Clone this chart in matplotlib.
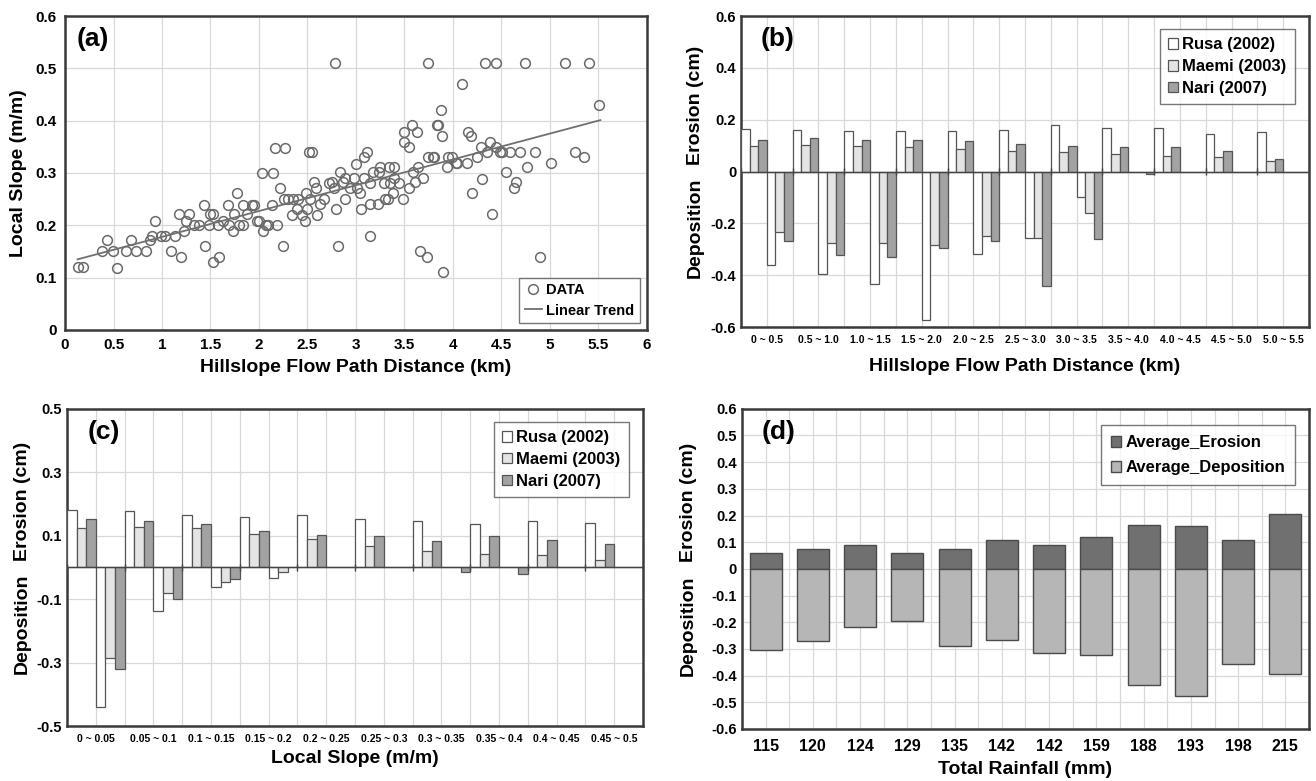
import numpy as np
import matplotlib
matplotlib.use('Agg')
import matplotlib.pyplot as plt
from matplotlib.ticker import MultipleLocator

plt.rcParams['font.family'] = ['Liberation Sans', 'DejaVu Sans']
plt.rcParams['font.weight'] = 'bold'

# (a) local slope vs. hillslope flow path distance
dist_km = [0.137, 0.188, 0.377, 0.435, 0.49, 0.538, 0.627, 0.685, 0.73, 0.84,
           0.88, 0.90, 0.925, 0.986, 1.03, 1.09, 1.13, 1.18, 1.2, 1.23,
           1.25, 1.28, 1.33, 1.38, 1.43, 1.445, 1.48, 1.49, 1.53, 1.53,
           1.585, 1.58, 1.63, 1.68, 1.695, 1.73, 1.74, 1.77, 1.79, 1.84,
           1.83, 1.88, 1.93, 1.945, 1.98, 2.0, 2.03, 2.04, 2.07, 2.09,
           2.13, 2.14, 2.17, 2.19, 2.22, 2.25, 2.27, 2.26, 2.3, 2.34,
           2.35, 2.39, 2.4, 2.44, 2.47, 2.48, 2.5, 2.52, 2.545, 2.53,
           2.57, 2.59, 2.6, 2.63, 2.67, 2.72, 2.78, 2.75, 2.77, 2.79,
           2.81, 2.84, 2.87, 2.89, 2.89, 2.94, 2.98, 3.0, 3.01, 3.04,
           3.05, 3.08, 3.08, 3.11, 3.14, 3.14, 3.14, 3.18, 3.23, 3.24,
           3.25, 3.29, 3.3, 3.33, 3.34, 3.35, 3.38, 3.39, 3.39, 3.44,
           3.48, 3.49, 3.5, 3.55, 3.55, 3.58, 3.59, 3.61, 3.63, 3.64,
           3.66, 3.69, 3.73, 3.74, 3.74, 3.79, 3.8, 3.84, 3.85, 3.88,
           3.89, 3.9, 3.94, 3.95, 3.99, 4.03, 4.04, 4.09, 4.14, 4.16,
           4.19, 4.2, 4.25, 4.29, 4.3, 4.33, 4.35, 4.38, 4.4, 4.44,
           4.44, 4.49, 4.51, 4.55, 4.59, 4.63, 4.65, 4.69, 4.74, 4.76,
           4.85, 4.9, 5.01, 5.15, 5.26, 5.35, 5.4, 5.51]
local_slope = [0.12, 0.12, 0.15, 0.172, 0.15, 0.119, 0.15, 0.172, 0.15, 0.15,
               0.172, 0.18, 0.209, 0.18, 0.18, 0.15, 0.18, 0.221, 0.14, 0.19,
               0.209, 0.221, 0.2, 0.2, 0.239, 0.16, 0.2, 0.221, 0.221, 0.13,
               0.14, 0.2, 0.209, 0.239, 0.2, 0.19, 0.221, 0.261, 0.2, 0.2,
               0.239, 0.221, 0.239, 0.239, 0.209, 0.209, 0.3, 0.19, 0.2, 0.2,
               0.239, 0.3, 0.348, 0.2, 0.271, 0.16, 0.348, 0.25, 0.25, 0.22,
               0.25, 0.231, 0.25, 0.22, 0.209, 0.261, 0.231, 0.341, 0.341, 0.25,
               0.282, 0.271, 0.22, 0.24, 0.25, 0.28, 0.511, 0.282, 0.271, 0.231,
               0.16, 0.301, 0.282, 0.29, 0.25, 0.271, 0.29, 0.318, 0.271, 0.261,
               0.231, 0.29, 0.331, 0.341, 0.24, 0.28, 0.18, 0.301, 0.24, 0.301,
               0.312, 0.28, 0.25, 0.25, 0.311, 0.28, 0.261, 0.311, 0.29, 0.28,
               0.25, 0.379, 0.36, 0.271, 0.35, 0.392, 0.301, 0.282, 0.379, 0.311,
               0.15, 0.29, 0.14, 0.511, 0.331, 0.331, 0.331, 0.392, 0.392, 0.42,
               0.371, 0.111, 0.311, 0.331, 0.331, 0.32, 0.32, 0.47, 0.32, 0.379,
               0.371, 0.261, 0.331, 0.35, 0.289, 0.511, 0.341, 0.36, 0.221, 0.511,
               0.35, 0.341, 0.341, 0.301, 0.341, 0.271, 0.282, 0.341, 0.511, 0.311,
               0.341, 0.14, 0.32, 0.511, 0.341, 0.331, 0.511, 0.429]
trend_x = [0.13, 5.52]
trend_y = [0.135, 0.401]

storms = ['Rusa (2002)', 'Maemi (2003)', 'Nari (2007)']

# (b) erosion / deposition by flow path distance
dist_classes = ['0 ~ 0.5', '0.5 ~ 1.0', '1.0 ~ 1.5', '1.5 ~ 2.0', '2.0 ~ 2.5', '2.5 ~ 3.0',
                '3.0 ~ 3.5', '3.5 ~ 4.0', '4.0 ~ 4.5', '4.5 ~ 5.0', '5.0 ~ 5.5']
rusa_ero_b = [0.164, 0.16, 0.158, 0.156, 0.156, 0.162, 0.178, 0.17, 0.167, 0.147, 0.151]
maemi_ero_b = [0.10, 0.104, 0.097, 0.094, 0.086, 0.079, 0.076, 0.068, 0.059, 0.055, 0.04]
nari_ero_b = [0.123, 0.13, 0.123, 0.123, 0.117, 0.107, 0.098, 0.096, 0.096, 0.078, 0.047]
rusa_dep_b = [-0.36, -0.397, -0.435, -0.574, -0.317, -0.256, -0.099, 0, 0, 0, 0]
maemi_dep_b = [-0.234, -0.274, -0.277, -0.285, -0.25, -0.256, -0.159, 0, 0, 0, 0]
nari_dep_b = [-0.268, -0.323, -0.329, -0.295, -0.268, -0.442, -0.26, -0.01, 0, 0, 0]

# (c) erosion / deposition by local slope
slope_classes = ['0 ~ 0.05', '0.05 ~ 0.1', '0.1 ~ 0.15', '0.15 ~ 0.2', '0.2 ~ 0.25',
                 '0.25 ~ 0.3', '0.3 ~ 0.35', '0.35 ~ 0.4', '0.4 ~ 0.45', '0.45 ~ 0.5']
rusa_ero_c = [0.18, 0.177, 0.164, 0.16, 0.166, 0.153, 0.147, 0.137, 0.147, 0.14]
maemi_ero_c = [0.125, 0.129, 0.125, 0.106, 0.09, 0.069, 0.053, 0.042, 0.04, 0.022]
nari_ero_c = [0.152, 0.145, 0.138, 0.116, 0.103, 0.098, 0.084, 0.098, 0.087, 0.075]
rusa_dep_c = [-0.441, -0.136, -0.063, -0.033, 0, 0, 0, 0, 0, 0]
maemi_dep_c = [-0.286, -0.08, -0.045, -0.015, 0, 0, 0, 0, 0, 0]
nari_dep_c = [-0.32, -0.10, -0.037, 0, 0, 0, -0.013, -0.021, 0, 0]

# (d) average erosion / deposition by total rainfall
rainfall = ['115', '120', '124', '129', '135', '142', '142', '159', '188', '193', '198', '215']
avg_erosion = [0.06, 0.075, 0.089, 0.06, 0.075, 0.11, 0.091, 0.119, 0.166, 0.162, 0.11, 0.206]
avg_deposition = [-0.305, -0.271, -0.217, -0.196, -0.29, -0.266, -0.315, -0.322, -0.434, -0.477, -0.356, -0.393]

frame_col = '#3a3a3a'
grid_col = '#d8d8d8'
storm_fill = ['white', '#e4e4e4', '#a2a2a2']


def frame(ax):
    for s in ax.spines.values():
        s.set_color(frame_col)
        s.set_linewidth(1.8)
    ax.tick_params(length=0, labelsize=10.5)
    ax.set_axisbelow(True)


def split_ylabel(ax, xpos):
    ax.text(xpos, 0.52, 'Erosion (cm)', rotation=90, transform=ax.transAxes,
            ha='center', va='bottom', fontsize=14, fontweight='bold')
    ax.text(xpos, 0.48, 'Deposition', rotation=90, transform=ax.transAxes,
            ha='center', va='top', fontsize=14, fontweight='bold')


def storm_panel(ax, cats, ero, dep, ylim, ystep, ylabx):
    n = len(cats)
    x = np.arange(n)
    w = 1 / 6
    for k in range(3):
        ax.bar(x - 0.5 + w * (k + 0.5), ero[k], w, color=storm_fill[k],
               edgecolor='#555555', linewidth=0.9, label=storms[k], zorder=3)
    for k in range(3):
        ax.bar(x + w * (k + 0.5), dep[k], w, color=storm_fill[k],
               edgecolor='#555555', linewidth=0.9, zorder=3)
    ax.axhline(0, color='#444444', lw=1.0, zorder=4)
    ax.vlines(np.arange(n + 1) - 0.5, -ylim * 0.02, ylim * 0.02, color='#444444', lw=1.0, zorder=4)
    ax.set_xlim(-0.5, n - 0.5)
    ax.set_ylim(-ylim, ylim)
    ax.yaxis.set_major_locator(MultipleLocator(ystep))
    ax.set_xticks(x)
    ax.set_xticklabels(cats)
    ax.set_xticks(np.arange(n + 1) - 0.5, minor=True)
    ax.grid(True, which='both', color=grid_col, lw=0.9)
    frame(ax)
    ax.tick_params(axis='x', labelsize=7.5, pad=6)
    ax.tick_params(which='minor', length=0)
    split_ylabel(ax, ylabx)
    ax.legend(loc='upper right', fontsize=12, frameon=True, fancybox=False,
              edgecolor='#555555', handlelength=0.6, handleheight=0.6,
              handletextpad=0.25, borderpad=0.5, labelspacing=0.4,
              bbox_to_anchor=(0.99, 0.985))


fig = plt.figure(figsize=(13.16, 7.81), dpi=100)

# ---- (a)
ax_a = fig.add_axes([0.0494, 0.5775, 0.4422, 0.402])
ax_a.plot(dist_km, local_slope, 'o', mfc='none', mec='#6a6a6a', mew=1.1, ms=7, label='DATA', zorder=3)
ax_a.plot(trend_x, trend_y, '-', color='#707070', lw=1.3, label='Linear Trend', zorder=3)
ax_a.set_xlim(0, 6)
ax_a.set_ylim(0, 0.6)
ax_a.set_xticks(np.arange(0, 6.01, 0.5))
ax_a.set_xticklabels(['0', '0.5', '1', '1.5', '2', '2.5', '3', '3.5', '4', '4.5', '5', '5.5', '6'])
ax_a.set_yticks(np.arange(0, 0.61, 0.1))
ax_a.set_yticklabels(['0', '0.1', '0.2', '0.3', '0.4', '0.5', '0.6'])
ax_a.grid(True, color=grid_col, lw=0.9)
frame(ax_a)
ax_a.tick_params(labelsize=11, pad=6)
ax_a.set_xlabel('Hillslope Flow Path Distance (km)', fontsize=14, fontweight='bold', labelpad=5)
ax_a.set_ylabel('Local Slope (m/m)', fontsize=14, fontweight='bold', labelpad=6)
ax_a.text(0.02, 0.965, '(a)', transform=ax_a.transAxes, fontsize=19, fontweight='bold', va='top')
ax_a.legend(loc='lower right', fontsize=10.5, frameon=True, fancybox=False,
            edgecolor='#555555', handlelength=1.2, handletextpad=0.3,
            borderpad=0.35, labelspacing=0.45, bbox_to_anchor=(1.0, 0.0))

# ---- (b)
ax_b = fig.add_axes([0.5631, 0.5813, 0.4316, 0.398])
storm_panel(ax_b, dist_classes,
            [rusa_ero_b, maemi_ero_b, nari_ero_b],
            [rusa_dep_b, maemi_dep_b, nari_dep_b], 0.6, 0.2, -0.081)
ax_b.set_yticks(np.arange(-0.6, 0.61, 0.2))
ax_b.set_yticklabels(['-0.6', '-0.4', '-0.2', '0', '0.2', '0.4', '0.6'])
ax_b.set_xlabel('Hillslope Flow Path Distance (km)', fontsize=14, fontweight='bold', labelpad=9)
ax_b.text(0.035, 0.965, '(b)', transform=ax_b.transAxes, fontsize=19, fontweight='bold', va='top')

# ---- (c)
ax_c = fig.add_axes([0.0509, 0.0704, 0.4377, 0.406])
storm_panel(ax_c, slope_classes,
            [rusa_ero_c, maemi_ero_c, nari_ero_c],
            [rusa_dep_c, maemi_dep_c, nari_dep_c], 0.5, 0.2, -0.078)
ax_c.set_yticks(np.arange(-0.5, 0.51, 0.2))
ax_c.set_yticklabels(['-0.5', '-0.3', '-0.1', '0.1', '0.3', '0.5'])
ax_c.set_xlabel('Local Slope (m/m)', fontsize=14, fontweight='bold', labelpad=4)
ax_c.text(0.035, 0.965, '(c)', transform=ax_c.transAxes, fontsize=19, fontweight='bold', va='top')

# ---- (d)
ax_d = fig.add_axes([0.5638, 0.0666, 0.4309, 0.41])
xd = np.arange(len(rainfall))
ax_d.bar(xd, avg_erosion, 0.68, color='#707070', edgecolor='#4a4a4a', lw=1.0,
         label='Average_Erosion', zorder=3)
ax_d.bar(xd, avg_deposition, 0.68, color='#b6b6b6', edgecolor='#4a4a4a', lw=1.0,
         label='Average_Deposition', zorder=3)
ax_d.set_xlim(-0.5, len(rainfall) - 0.5)
ax_d.set_ylim(-0.6, 0.6)
ax_d.set_yticks(np.arange(-0.6, 0.61, 0.1))
ax_d.set_yticklabels(['-0.6', '-0.5', '-0.4', '-0.3', '-0.2', '-0.1', '0',
                      '0.1', '0.2', '0.3', '0.4', '0.5', '0.6'])
ax_d.set_xticks(xd)
ax_d.set_xticklabels(rainfall)
ax_d.set_xticks(np.arange(len(rainfall) + 1) - 0.5, minor=True)
ax_d.grid(True, which='both', color=grid_col, lw=0.9)
frame(ax_d)
ax_d.tick_params(axis='x', labelsize=11.5, pad=7)
ax_d.tick_params(which='minor', length=0)
split_ylabel(ax_d, -0.095)
ax_d.set_xlabel('Total Rainfall (mm)', fontsize=14, fontweight='bold', labelpad=5)
ax_d.text(0.035, 0.965, '(d)', transform=ax_d.transAxes, fontsize=19, fontweight='bold', va='top')
ax_d.legend(loc='upper right', fontsize=12, frameon=True, fancybox=False,
            edgecolor='#555555', handlelength=0.6, handleheight=0.6,
            handletextpad=0.25, borderpad=0.6, labelspacing=0.6,
            bbox_to_anchor=(0.99, 0.975))

fig.savefig('out.png', dpi=100)
